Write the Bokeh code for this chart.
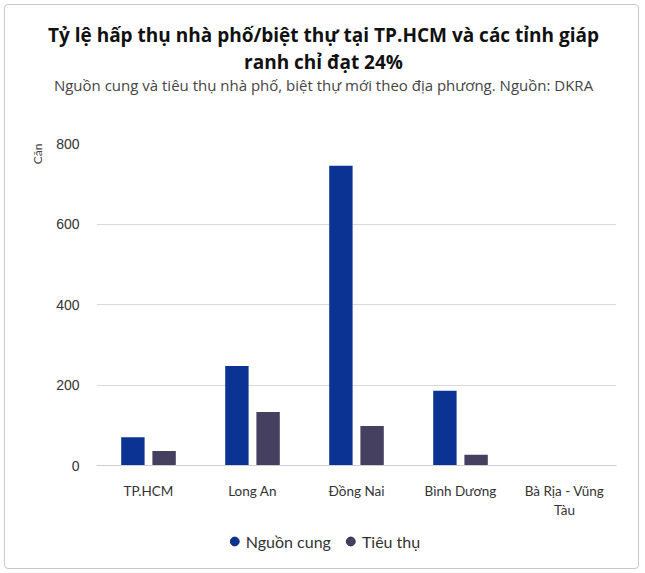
from bokeh.plotting import figure
from bokeh.layouts import column
from bokeh.models import (ColumnDataSource, Range1d, FactorRange, Title, Legend,
                          LegendItem, FixedTicker, Label)
from bokeh.transform import dodge
from bokeh.embed import file_html
from bokeh.resources import INLINE

# ---- data ----
regions = ["TP.HCM", "Long An", "Đồng Nai", "Bình Dương", "Bà Rịa - Vũng\nTàu"]
supply = [70, 247, 745, 186, 0]
sold = [36, 133, 98, 27, 0]
series_names = ["Nguồn cung", "Tiêu thụ"]
y_ticks = [0, 200, 400, 600, 800]
title_lines = ["Tỷ lệ hấp thụ nhà phố/biệt thự tại TP.HCM và các tỉnh giáp",
               "ranh chỉ đạt 24%"]
subtitle = "Nguồn cung và tiêu thụ nhà phố, biệt thự mới theo địa phương. Nguồn: DKRA"
y_label = "Căn"

BLUE = "#0b3394"
BLUE_EDGE = "#0a2670"
DARK = "#45405f"
DARK_EDGE = "#2b2642"
FONT = "Lato"
TFONT = "Open Sans"
W = 643


def blank(height, bottom=0):
    f = figure(width=W, height=height, x_range=Range1d(0, 1), y_range=Range1d(0, 1),
               output_backend="svg", toolbar_location=None,
               min_border_left=0, min_border_right=0, min_border_top=0,
               min_border_bottom=bottom, background_fill_alpha=0,
               border_fill_alpha=0)
    f.outline_line_color = None
    f.axis.visible = False
    f.grid.visible = False
    if "frame_align" in f.properties():
        f.frame_align = False
    return f


# ---- header (titles) ----
hd = blank(120)
hd.add_layout(Label(x=323, y=86, x_units="screen", y_units="screen",
                    text=title_lines[0], text_align="center", text_baseline="middle",
                    text_font=TFONT, text_font_size="19px", text_font_style="bold",
                    text_color="#111111"))
hd.add_layout(Label(x=323, y=59, x_units="screen", y_units="screen",
                    text=title_lines[1], text_align="center", text_baseline="middle",
                    text_font=TFONT, text_font_size="19px", text_font_style="bold",
                    text_color="#111111"))
hd.add_layout(Label(x=323, y=36, x_units="screen", y_units="screen",
                    text=subtitle, text_align="center", text_baseline="middle",
                    text_font=TFONT, text_font_size="15px", text_font_style="normal",
                    text_color="#444444"))

# ---- main chart ----
src = ColumnDataSource(dict(region=regions, supply=supply, sold=sold))

p = figure(x_range=FactorRange(*regions), y_range=Range1d(0, 800),
           width=W, height=400, output_backend="svg", toolbar_location=None,
           min_border_left=96, min_border_right=27, min_border_top=23,
           min_border_bottom=49, background_fill_alpha=0,
           border_fill_alpha=0)
p.outline_line_color = None
if "frame_align" in p.properties():
    p.frame_align = False

p.vbar(x=dodge("region", -0.15, range=p.x_range), top="supply", width=0.225,
       source=src, fill_color=BLUE, line_color=None)
p.vbar(x=dodge("region", 0.15, range=p.x_range), top="sold", width=0.225,
       source=src, fill_color=DARK, line_color=None)

p.xgrid.grid_line_color = None
p.ygrid.grid_line_color = "#d9d9d9"
p.yaxis.ticker = FixedTicker(ticks=y_ticks)
p.yaxis.axis_line_color = None
p.yaxis.major_tick_line_color = None
p.yaxis.minor_tick_line_color = None
p.yaxis.major_label_standoff = 11
p.yaxis.major_label_text_font = "Liberation Sans"
p.yaxis.major_label_text_font_size = "14px"
p.yaxis.major_label_text_color = "#333333"

p.xaxis.axis_line_color = "#cfcfcf"
p.xaxis.major_tick_line_color = None
p.xaxis.minor_tick_line_color = None
p.xaxis.major_label_standoff = 11
p.xaxis.major_label_text_font = FONT
p.xaxis.major_label_text_font_size = "13.5px"
p.xaxis.major_label_text_color = "#333333"

p.add_layout(Title(text=y_label, align="right", text_font=FONT,
                   text_font_size="12px", text_font_style="normal",
                   text_color="#444444", standoff=17), "left")

# ---- legend (circle markers); points lie outside the ranges, only the legend shows ----
lg = blank(53, bottom=11)
r1 = lg.scatter(x=[-5], y=[-5], marker="circle", size=10, fill_color=BLUE, line_color=BLUE_EDGE)
r2 = lg.scatter(x=[-5], y=[-5], marker="circle", size=10, fill_color=DARK, line_color=DARK_EDGE)
legend = Legend(items=[LegendItem(label=series_names[0], renderers=[r1]),
                       LegendItem(label=series_names[1], renderers=[r2])],
                orientation="horizontal", location="center",
                border_line_color=None, background_fill_alpha=0,
                label_text_font=FONT, label_text_font_size="16px",
                label_text_color="#333333", glyph_width=22, glyph_height=22,
                label_standoff=1, spacing=8, padding=0, margin=0)
lg.add_layout(legend, "center")

page = column(hd, p, lg, spacing=0)
page.styles = {"outline": "1.5px solid #c9c9c9", "outline-offset": "-5px",
               "border-radius": "8px"}

open("out.html", "w").write(file_html(page, INLINE))
